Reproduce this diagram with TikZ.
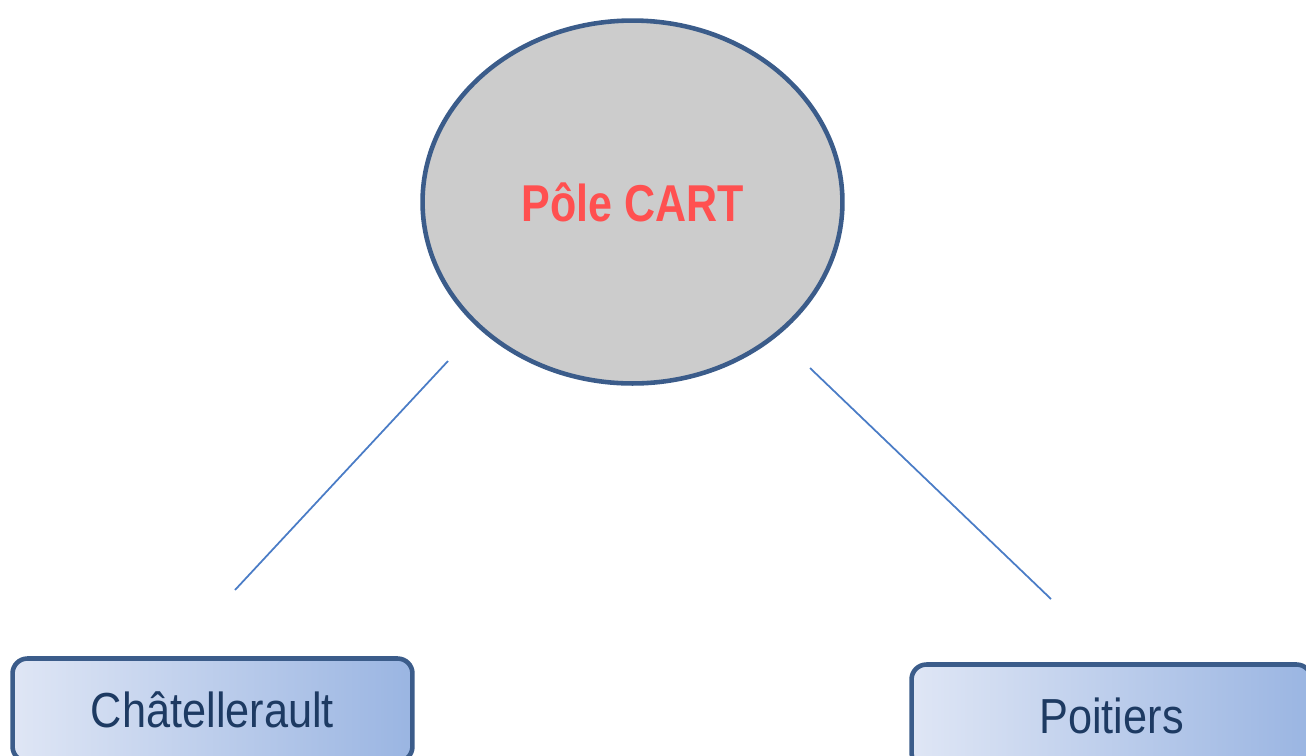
\documentclass[tikz,border=0pt]{standalone}
\usepackage{fontspec}
\setmainfont{Liberation Sans}
\newfontfamily\sitefont[FakeStretch=0.88]{Liberation Sans}
\newfontfamily\polefont[FakeStretch=0.83]{Liberation Sans}
\usetikzlibrary{shapes.geometric}
\definecolor{edgeblue}{HTML}{3B5C8A}
\definecolor{polegray}{HTML}{CCCCCC}
\definecolor{polered}{HTML}{FF5050}
\definecolor{siteleft}{HTML}{DFE6F5}
\definecolor{siteright}{HTML}{9AB5E2}
\definecolor{sitetext}{HTML}{1D3A62}
\definecolor{linkblue}{HTML}{4A7CC6}
\begin{document}
\begin{tikzpicture}[x=0.02cm, y=-0.02cm, pole/.style={draw=edgeblue, line width=2.6pt, fill=polegray, shape=ellipse, minimum width=8.4cm, minimum height=7.26cm, inner sep=0pt},site/.style={draw=edgeblue, line width=2.6pt, rounded corners=8.5pt, left color=siteleft, right color=siteright, minimum width=8.0cm, minimum height=2.06cm, inner sep=0pt, text=sitetext, font=\sitefont\fontsize{28}{32}\selectfont},link/.style={draw=linkblue, line width=1pt}]
        \useasboundingbox (0,0) rectangle (1306,755);
        \clip (0,0) rectangle (1306,755);

        \node[pole, text=polered, font=\polefont\bfseries\fontsize{29.5}{34}\selectfont] (pole) at (632.5,202) {Pôle CART};

        \node[site] (chat) at (212.5,710) {Châtellerault};
        \node[site] (poit) at (1111.5,716) {Poitiers};

        % free ends of the links
        \coordinate (chattop) at (235,590);\coordinate (poittop) at (1051,599);
        \coordinate (poleleft) at (448,361);\coordinate (poleright) at (810,368);
        \draw[link] (poleleft) -- (chattop);
        \draw[link] (poleright) -- (poittop);
    \end{tikzpicture}
\end{document}
